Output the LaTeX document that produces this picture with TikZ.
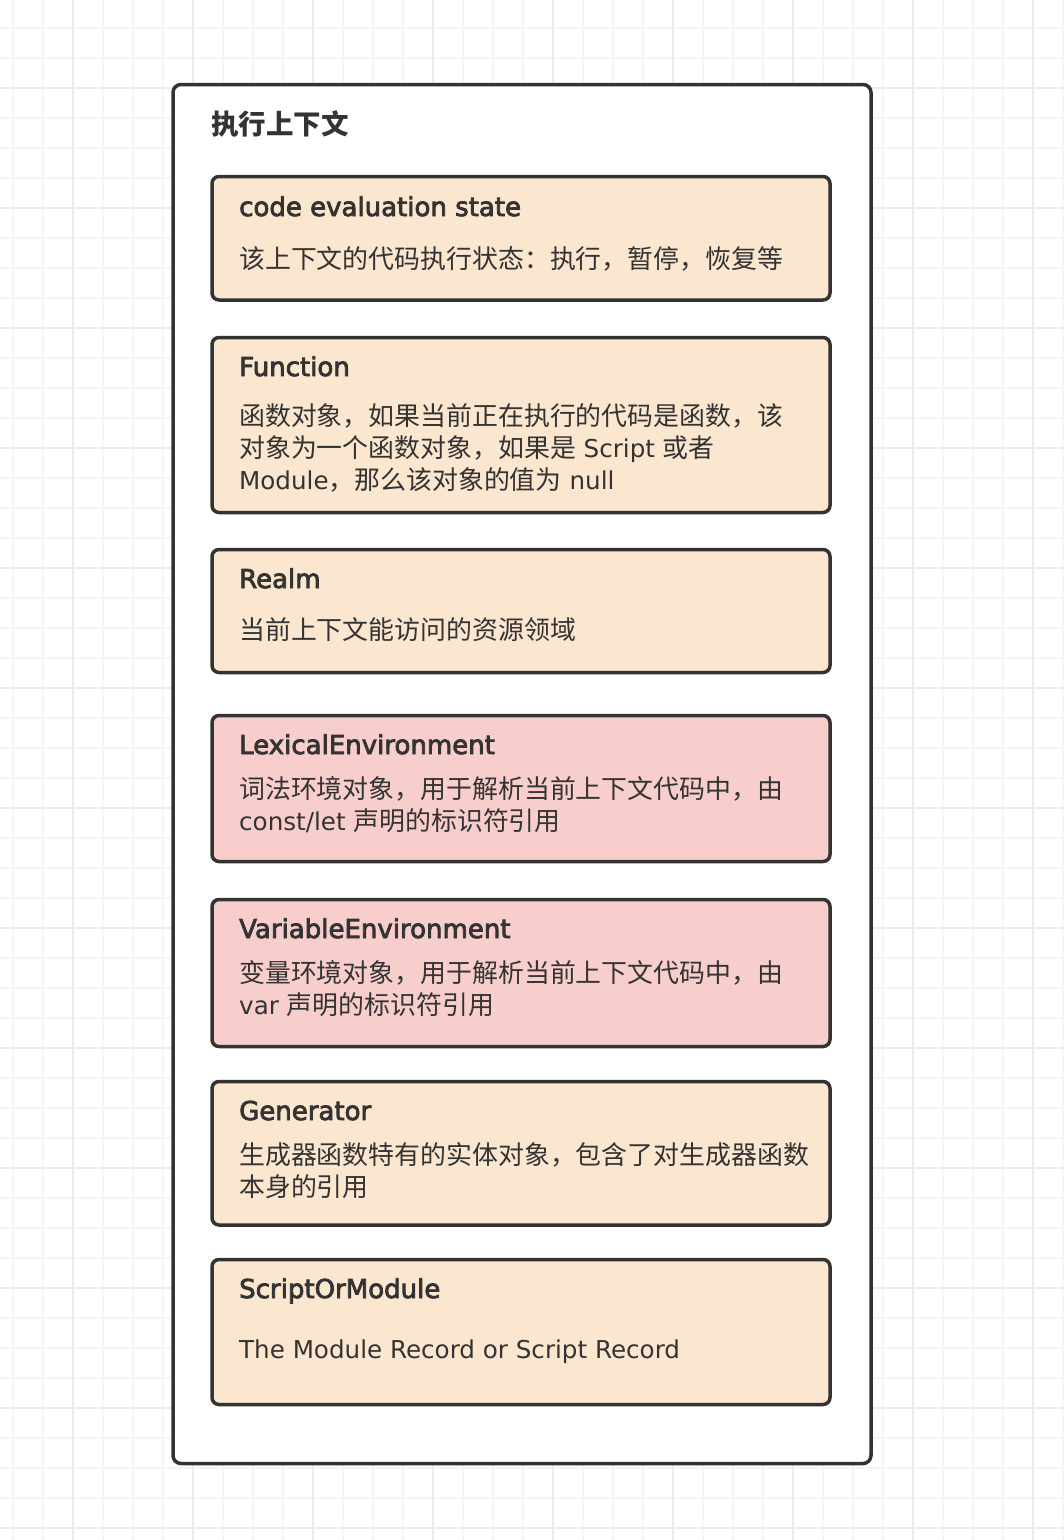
\documentclass[tikz,border=0pt]{standalone}
\usepackage{fontspec}
\setmainfont{Noto Sans CJK SC}
\newfontfamily\latf{DejaVu Sans}
\newfontfamily\headf[FakeBold=3]{DejaVu Sans}
\newfontfamily\cjkf{Noto Sans CJK SC}
\newcommand\lt[1]{{\latf\fontsize{24.6pt}{30pt}\selectfont #1}}
\definecolor{ink}{HTML}{333333}
\definecolor{beige}{HTML}{FBE6CF}
\definecolor{pinkf}{HTML}{F8CECC}
\definecolor{gridminor}{HTML}{F5F5F5}
\definecolor{gridmajor}{HTML}{ECECEC}
\tikzset{
  gminor/.style={draw=gridminor, line width=1.3pt},
  gmajor/.style={draw=gridmajor, line width=1.3pt},
  outerbox/.style={draw=ink, line width=3.5pt, rounded corners=8pt, fill=white, rectangle, outer sep=0pt, inner sep=0pt, anchor=north west},
  itembox/.style={draw=ink, line width=3.5pt, rounded corners=7pt, rectangle, outer sep=0pt, inner sep=0pt, anchor=north west, minimum width=618pt},
  boxbeige/.style={itembox, fill=beige},
  boxpink/.style={itembox, fill=pinkf},
  head/.style={anchor=base west, inner sep=0pt, text=ink, font=\headf\fontsize{26pt}{30pt}\selectfont},
  body/.style={anchor=base west, inner sep=0pt, text=ink, font=\cjkf\fontsize{25.9pt}{30pt}\selectfont},
  ttl/.style={anchor=base west, inner sep=0pt, text=ink, font=\bfseries\fontsize{27.5pt}{30pt}\selectfont},
}
\begin{document}
\begin{tikzpicture}[x=1pt,y=-1pt]
\useasboundingbox (0,0) rectangle (1064,1540);
\fill[white] (0,0) rectangle (1064,1540);
\foreach \gx in {13,43,...,1063} \draw[gminor] (\gx,0) -- (\gx,1540);
\foreach \gy in {28,58,...,1538} \draw[gminor] (0,\gy) -- (1064,\gy);
\foreach \gx in {73,193,...,1063} \draw[gmajor] (\gx,0) -- (\gx,1540);
\foreach \gy in {88,208,...,1538} \draw[gmajor] (0,\gy) -- (1064,\gy);

\node[outerbox, minimum width=698pt, minimum height=1379pt] (outer) at (173,84.5) {};
\node[ttl] (title) at (211,134) {执行上下文};

\node[boxbeige, minimum height=123.5pt] (b1) at (212,176.5) {};
\node[head] (b1h) at (239,216) {code evaluation state};
\node[body] (b1t) at (239,268) {该上下文的代码执行状态：执行，暂停，恢复等};

\node[boxbeige, minimum height=175pt] (b2) at (212,337.5) {};
\node[head] (b2h) at (239,376) {Function};
\node[body] (b2t1) at (239,425) {函数对象，如果当前正在执行的代码是函数，该};
\node[body] (b2t2) at (239,457) {对象为一个函数对象，如果是\lt{ Script }或者};
\node[body] (b2t3) at (239,489) {\lt{Module}，那么该对象的值为\lt{ null}};

\node[boxbeige, minimum height=123pt] (b3) at (212,549.5) {};
\node[head] (b3h) at (239,588) {Realm};
\node[body] (b3t) at (239,639) {当前上下文能访问的资源领域};

\node[boxpink, minimum height=146pt] (b4) at (212,715.5) {};
\node[head] (b4h) at (239,754) {LexicalEnvironment};
\node[body] (b4t1) at (239,798) {词法环境对象，用于解析当前上下文代码中，由};
\node[body] (b4t2) at (239,830) {\lt{const/let }声明的标识符引用};

\node[boxpink, minimum height=147pt] (b5) at (212,899.5) {};
\node[head] (b5h) at (239,938) {VariableEnvironment};
\node[body] (b5t1) at (239,982) {变量环境对象，用于解析当前上下文代码中，由};
\node[body] (b5t2) at (239,1014) {\lt{var }声明的标识符引用};

\node[boxbeige, minimum height=143.5pt] (b6) at (212,1081.5) {};
\node[head] (b6h) at (239,1120) {Generator};
\node[body] (b6t1) at (239,1164) {生成器函数特有的实体对象，包含了对生成器函数};
\node[body] (b6t2) at (239,1196) {本身的引用};

\node[boxbeige, minimum height=145pt] (b7) at (212,1259.5) {};
\node[head] (b7h) at (239,1298) {ScriptOrModule};
\node[body] (b7t) at (239,1358) {\lt{The Module Record or Script Record}};
\end{tikzpicture}
\end{document}
